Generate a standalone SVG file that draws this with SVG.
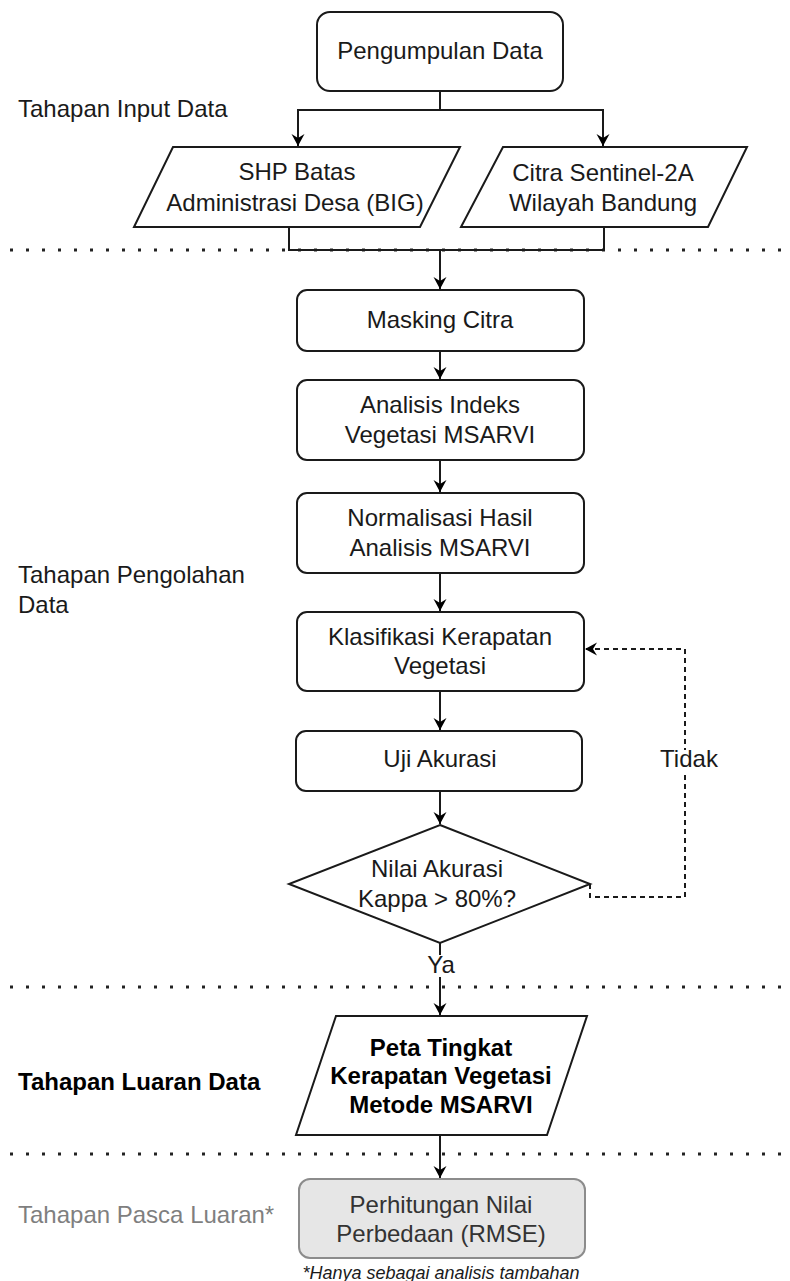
<svg xmlns="http://www.w3.org/2000/svg" width="790" height="1281" viewBox="0 0 790 1281">
<defs>
<style>
.t{font-family:"Liberation Sans",Arial,sans-serif;font-size:24px;fill:#1a1a1a}
.c{text-anchor:middle}
.b{font-weight:bold;fill:#000}
.node{fill:#fff;stroke:#1a1a1a;stroke-width:2}
.ln{fill:none;stroke:#1a1a1a;stroke-width:2}
.dash{fill:none;stroke:#1a1a1a;stroke-width:2;stroke-dasharray:5 4}
.dot{fill:none;stroke:#222;stroke-width:3;stroke-dasharray:3 13}
</style>
<marker id="arr" viewBox="0 0 12 14" refX="12" refY="7" markerWidth="12" markerHeight="14" markerUnits="userSpaceOnUse" orient="auto">
<path d="M0,0.5 L12,7 L0,13.5 L4,7 z" fill="#000"/>
</marker>
</defs>
<rect width="790" height="1281" fill="#fff"/>

<g id="separators">
<line class="dot" x1="10" y1="250" x2="790" y2="250"/>
<line class="dot" x1="10" y1="987" x2="790" y2="987"/>
<line class="dot" x1="10" y1="1154" x2="790" y2="1154"/>
</g>

<g id="stage-labels">
<text class="t" x="18" y="117">Tahapan Input Data</text>
<text class="t" x="18" y="583">Tahapan Pengolahan</text>
<text class="t" x="18" y="613">Data</text>
<text class="t b" x="18" y="1090">Tahapan Luaran Data</text>
<text class="t" x="18" y="1223" style="fill:#7f7f7f">Tahapan Pasca Luaran*</text>
</g>

<g id="connectors">
<path class="ln" d="M440,91 V110 H298 V146" marker-end="url(#arr)"/>
<path class="ln" d="M440,110 H603 V146" marker-end="url(#arr)"/>
<path class="ln" d="M289,227 V250 H440 V289" marker-end="url(#arr)"/>
<path class="ln" d="M604,227 V250 H440"/>
<path class="ln" d="M440,351 V379" marker-end="url(#arr)"/>
<path class="ln" d="M440,460 V492" marker-end="url(#arr)"/>
<path class="ln" d="M440,573 V611" marker-end="url(#arr)"/>
<path class="ln" d="M440,691 V730" marker-end="url(#arr)"/>
<path class="ln" d="M440,791 V824" marker-end="url(#arr)"/>
<path class="ln" d="M440,943 V1015" marker-end="url(#arr)"/>
<path class="ln" d="M440,1135 V1178" marker-end="url(#arr)"/>
<path class="dash" d="M590,884 V897 H685 V649 H585" marker-end="url(#arr)"/>
<rect x="663" y="750" width="52" height="24" fill="#fff"/>
<text class="t c" x="689" y="767">Tidak</text>
<rect x="426" y="955" width="30" height="22" fill="#fff"/>
<text class="t c" x="441" y="973">Ya</text>
</g>

<g id="n-pengumpulan">
<rect class="node" x="317" y="12" width="246" height="79" rx="13"/>
<text class="t c" x="440" y="59">Pengumpulan Data</text>
</g>

<g id="n-shp">
<polygon class="node" points="173,147 460,147 420,227 134,227"/>
<text class="t c" x="297" y="180">SHP Batas</text>
<text class="t c" x="295" y="211">Administrasi Desa (BIG)</text>
</g>

<g id="n-citra">
<polygon class="node" points="503,147 747,147 708,227 461,227"/>
<text class="t c" x="603" y="181">Citra Sentinel-2A</text>
<text class="t c" x="603" y="211">Wilayah Bandung</text>
</g>

<g id="n-masking">
<rect class="node" x="297" y="290" width="287" height="61" rx="10"/>
<text class="t c" x="440" y="328">Masking Citra</text>
</g>

<g id="n-analisis">
<rect class="node" x="297" y="380" width="287" height="80" rx="10"/>
<text class="t c" x="440" y="413">Analisis Indeks</text>
<text class="t c" x="440" y="443">Vegetasi MSARVI</text>
</g>

<g id="n-normalisasi">
<rect class="node" x="297" y="493" width="287" height="80" rx="10"/>
<text class="t c" x="440" y="526">Normalisasi Hasil</text>
<text class="t c" x="440" y="556">Analisis MSARVI</text>
</g>

<g id="n-klasifikasi">
<rect class="node" x="297" y="612" width="287" height="79" rx="10"/>
<text class="t c" x="440" y="645">Klasifikasi Kerapatan</text>
<text class="t c" x="440" y="674">Vegetasi</text>
</g>

<g id="n-uji">
<rect class="node" x="296" y="731" width="286" height="60" rx="10"/>
<text class="t c" x="440" y="767">Uji Akurasi</text>
</g>

<g id="n-kappa">
<polygon class="node" points="440,825 590,884 440,943 289,884"/>
<text class="t c" x="437" y="877">Nilai Akurasi</text>
<text class="t c" x="437" y="907">Kappa &gt; 80%?</text>
</g>

<g id="n-peta">
<polygon class="node" points="336,1016 587,1016 547,1135 296,1135"/>
<text class="t c b" x="441" y="1056">Peta Tingkat</text>
<text class="t c b" x="441" y="1084">Kerapatan Vegetasi</text>
<text class="t c b" x="441" y="1113">Metode MSARVI</text>
</g>

<g id="n-rmse">
<rect x="299" y="1179" width="286" height="79" rx="11" fill="#e6e6e6" stroke="#8c8c8c" stroke-width="2"/>
<text class="t c" x="441" y="1213" style="fill:#333">Perhitungan Nilai</text>
<text class="t c" x="441" y="1242" style="fill:#333">Perbedaan (RMSE)</text>
<text class="c" x="441" y="1279" style="font-family:'Liberation Sans',Arial,sans-serif;font-size:18px;font-style:italic;fill:#1a1a1a">*Hanya sebagai analisis tambahan</text>
</g>
</svg>
